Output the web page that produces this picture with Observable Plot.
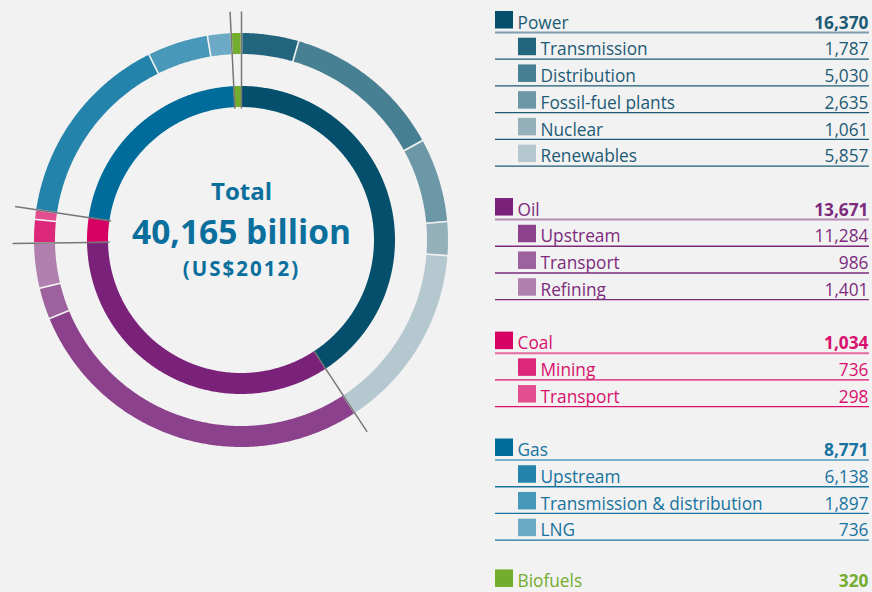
<!DOCTYPE html>
<html><head><meta charset="utf-8">
<script src="https://cdn.jsdelivr.net/npm/d3@7"></script>
<script src="https://cdn.jsdelivr.net/npm/@observablehq/plot@0.6"></script>
<style>
html,body{margin:0;padding:0;background:#f2f2f2;}
#wrap{position:relative;width:872px;height:592px;overflow:hidden;background:#f2f2f2;font-family:"Open Sans",sans-serif;}
#donut{position:absolute;left:0;top:0;}
#table{position:absolute;left:490px;top:0;}
</style></head>
<body><div id="wrap"><div id="donut"></div><div id="table"></div></div>
<script>
// ---- data ----
const groups = ["Power", "Oil", "Coal", "Gas", "Biofuels"];
const groupTotals = [16370, 13671, 1034, 8771, 320];
const groupColors = ["#034f6c", "#7a217a", "#d60064", "#006c9b", "#72ad2e"];
const groupTextColors = ["#1d5b75", "#7d2a7d", "#d8106c", "#16729e", "#72ad2e"];
const headerLineColors = ["#7b9fb0", "#b48ab3", "#e46a9f", "#79afc8", "#9cc86c"];
const subGroups = ["Power", "Power", "Power", "Power", "Power", "Oil", "Oil", "Oil", "Coal", "Coal", "Gas", "Gas", "Gas"];
const subNames = ["Transmission", "Distribution", "Fossil-fuel plants", "Nuclear", "Renewables", "Upstream", "Transport", "Refining", "Mining", "Transport", "Upstream", "Transmission & distribution", "LNG"];
const subValues = [1787, 5030, 2635, 1061, 5857, 11284, 986, 1401, 736, 298, 6138, 1897, 736];
const subColors = ["#24657e", "#477f93", "#6c97a7", "#93b0bb", "#b5c8cf", "#8b418b", "#9d619d", "#b080ae", "#dc277a", "#e24e90", "#2483aa", "#4899b9", "#6daac5"];
const centerLines = ["Total", "40,165 billion", "(US$2012)"];

// ---- donut ----
const total = d3.sum(groupTotals);
const innerSegs = groups.map((g, i) => ({key: g, value: groupTotals[i], color: groupColors[i]}));
const outerSegs = [];
groups.forEach((g, gi) => {
  let has = false;
  subNames.forEach((n, si) => {
    if (subGroups[si] === g) { has = true; outerSegs.push({key: g + "|" + n, value: subValues[si], color: subColors[si]}); }
  });
  if (!has) outerSegs.push({key: g + "|" + g, value: groupTotals[gi], color: groupColors[gi]});
});
const ang = v => v / total * 2 * Math.PI;
function ringPoints(segs, rIn, rOut) {
  const pts = [];
  let acc = 0;
  segs.forEach(s => {
    const a0 = ang(acc); acc += s.value; const a1 = ang(acc);
    const n = Math.max(2, Math.ceil((a1 - a0) / (Math.PI / 360)));
    for (let k = 0; k <= n; k++) {
      const t = a0 + (a1 - a0) * k / n;
      pts.push({key: s.key, color: s.color,
        x1: rOut * Math.sin(t), y1: rOut * Math.cos(t),
        x2: rIn * Math.sin(t), y2: rIn * Math.cos(t)});
    }
  });
  return pts;
}
function boundaries(segs) {
  const out = []; let acc = 0;
  segs.forEach(s => { out.push(ang(acc)); acc += s.value; });
  return out;
}
const ray = (r1, r2) => ({
  x1: t => r1 * Math.sin(t), y1: t => r1 * Math.cos(t),
  x2: t => r2 * Math.sin(t), y2: t => r2 * Math.cos(t)
});
const centerText = {frameAnchor: "middle", lineAnchor: "bottom", text: d => d, fill: "#0b6f9d", fontWeight: "bold", fontFamily: "Open Sans"};

const donut = Plot.plot({
  width: 482, height: 480, margin: 0,
  x: {domain: [-241, 241], axis: null},
  y: {domain: [-240, 240], axis: null},
  color: {type: "identity"},
  style: {background: "transparent", fontFamily: "Open Sans"},
  marks: [
    Plot.area(ringPoints(innerSegs, 133, 154), {x1: "x1", y1: "y1", x2: "x2", y2: "y2", z: "key", fill: "color"}),
    Plot.area(ringPoints(outerSegs, 186, 207), {x1: "x1", y1: "y1", x2: "x2", y2: "y2", z: "key", fill: "color"}),
    Plot.link(boundaries(outerSegs), {...ray(184, 209), stroke: "#f2f2f2", strokeWidth: 1.6}),
    Plot.link(boundaries(innerSegs), {...ray(132, 229), stroke: "#767676", strokeWidth: 1.5}),
    Plot.text([centerLines[0]], {...centerText, dy: -40.5, fontSize: 24}),
    Plot.text([centerLines[1]], {...centerText, dy: 3, fontSize: 33.5}),
    Plot.text([centerLines[2]], {...centerText, dy: 35, fontSize: 20.5})
  ]
});
// widen the subtitle line's tracking a little, like the reference
const tnodes = donut.querySelectorAll("text");
tnodes[tnodes.length - 1].setAttribute("letter-spacing", "2");
document.getElementById("donut").append(donut);

// ---- table legend ----
const step = 26.72;
const rows = [];
let slot = 0;
groups.forEach((g, gi) => {
  const n = subGroups.filter(s => s === g).length;
  // the last, sub-less row sits a touch higher so it stays inside the picture
  rows.push({level: 0, name: g, value: groupTotals[gi], slot: n ? slot : slot - 0.1, hasSubs: n > 0, color: groupColors[gi], text: groupTextColors[gi], line: headerLineColors[gi]});
  slot++;
  subNames.forEach((nm, si) => {
    if (subGroups[si] === g) {
      rows.push({level: 1, name: nm, value: subValues[si], slot, color: subColors[si], text: groupTextColors[gi], line: groupTextColors[gi]});
      slot++;
    }
  });
  slot++;
});
const heads = rows.filter(d => d.level === 0);
const subs = rows.filter(d => d.level === 1);
const sqX = d => d.level ? 28 : 5;
const fmt = d3.format(",");
const y0 = -32 / step;

const table = Plot.plot({
  width: 382, height: 592, margin: 0,
  x: {domain: [0, 382], axis: null},
  y: {domain: [y0, y0 + 592 / step], range: [0, 592], axis: null},
  color: {type: "identity"},
  style: {background: "transparent", fontFamily: "Open Sans"},
  marks: [
    Plot.ruleY(subs, {y: "slot", x1: 5, x2: 379, stroke: "line", strokeWidth: 1.3}),
    Plot.ruleY(heads.filter(d => d.hasSubs), {y: "slot", x1: 5, x2: 379, stroke: "line", strokeWidth: 2}),
    Plot.rect(rows, {x1: sqX, x2: d => sqX(d) + 18, y1: d => d.slot - 21 / step, y2: d => d.slot - 3.5 / step, fill: "color"}),
    Plot.text(rows, {x: d => sqX(d) + 22, y: "slot", dy: -3.8, lineAnchor: "bottom", textAnchor: "start", text: "name", fill: "text", fontSize: 17.3, fontFamily: "Open Sans"}),
    Plot.text(subs, {x: 378, y: "slot", dy: -3.8, lineAnchor: "bottom", textAnchor: "end", text: d => fmt(d.value), fill: "text", fontSize: 17.3, fontFamily: "Open Sans"}),
    Plot.text(heads, {x: 378, y: "slot", dy: -3.8, lineAnchor: "bottom", textAnchor: "end", text: d => fmt(d.value), fill: "text", fontSize: 17.3, fontWeight: "bold", fontFamily: "Open Sans"})
  ]
});
document.getElementById("table").append(table);
</script>
</body></html>
